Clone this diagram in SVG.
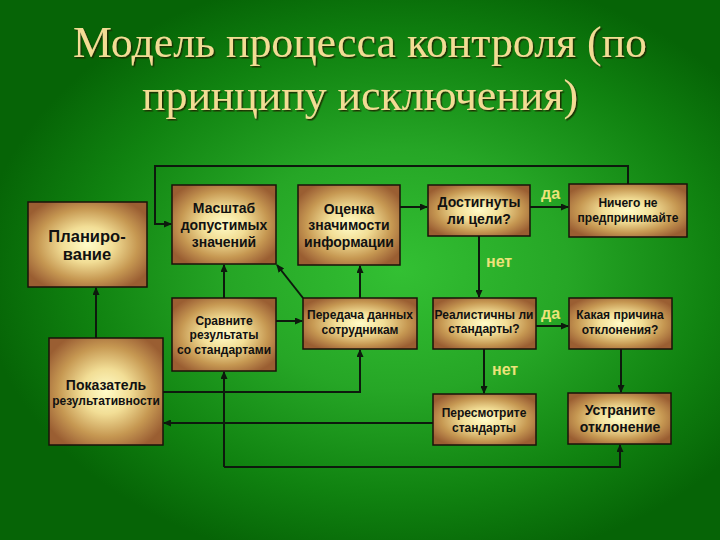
<svg xmlns="http://www.w3.org/2000/svg" width="720" height="540" viewBox="0 0 720 540">
<defs>
<radialGradient id="bg" cx="400" cy="270" r="420" gradientUnits="userSpaceOnUse" gradientTransform="translate(400 270) scale(1 0.72) translate(-400 -270)">
<stop offset="0" stop-color="#33c033"/>
<stop offset="0.4" stop-color="#26a626"/>
<stop offset="0.75" stop-color="#108210"/>
<stop offset="1" stop-color="#066406"/>
</radialGradient>
<radialGradient id="box" cx="0.5" cy="0.5" r="0.6">
<stop offset="0" stop-color="#fffcc8"/>
<stop offset="0.35" stop-color="#f2de96"/>
<stop offset="0.7" stop-color="#c69852"/>
<stop offset="0.9" stop-color="#a9713e"/>
<stop offset="1" stop-color="#9a5e32"/>
</radialGradient>
<marker id="ah" markerWidth="8" markerHeight="7" refX="7" refY="3.5" orient="auto" markerUnits="userSpaceOnUse">
<path d="M0,0 L8,3.5 L0,7 Z" fill="#0d1a0d"/>
</marker>
<filter id="sh" x="-5%" y="-5%" width="110%" height="120%">
<feDropShadow dx="1.5" dy="1.5" stdDeviation="0.6" flood-color="#1a2a00" flood-opacity="0.9"/>
</filter>
</defs>
<style>
.b{fill:url(#box);stroke:#1a120a;stroke-width:1.5}
.t{font-family:"Liberation Sans",Arial,sans-serif;font-weight:bold;fill:#111;text-anchor:middle}
.s16{font-size:16.5px}.s13{font-size:14px}.s11{font-size:12px}
.ca{fill:none;stroke:#0d1a0d;stroke-width:2;marker-end:url(#ah)}
.lab{font-family:"Liberation Sans",Arial,sans-serif;font-weight:bold;font-size:16px;fill:#ece37a}
.title{font-family:"Liberation Serif","Times New Roman",serif;font-size:44px;fill:#f2dc94;text-anchor:middle}
</style>
<rect x="0" y="0" width="720" height="540" fill="url(#bg)"/>
<g id="title" filter="url(#sh)">
<text class="title" x="360" y="57" textLength="574" lengthAdjust="spacingAndGlyphs">Модель процесса контроля (по</text>
<text class="title" x="360" y="110" textLength="436" lengthAdjust="spacingAndGlyphs">принципу исключения)</text>
</g>
<g id="connectors">
<path class="ca" d="M628,184 V166 H155 V224 H171"/>
<path class="ca" d="M303,298 L277,265"/>
<path class="ca" d="M224,298 V265"/>
<path class="ca" d="M276,321 H302"/>
<path class="ca" d="M360,298 V266"/>
<path class="ca" d="M400,207 H427"/>
<path class="ca" d="M479,236 V297"/>
<path class="ca" d="M530,207 H568"/>
<path class="ca" d="M536,326 H568"/>
<path class="ca" d="M484,349 V393"/>
<path class="ca" d="M621,349 V392"/>
<path class="ca" d="M224,467 V372"/>
<path class="ca" d="M224,467 H620 V445"/>
<path class="ca" d="M163,392 H360 V350"/>
<path class="ca" d="M433,423 H164"/>
<path class="ca" d="M96,338 V288"/>
</g>
<g id="labels">
<text class="lab" x="541" y="199">да</text>
<text class="lab" x="486" y="267">нет</text>
<text class="lab" x="541" y="319">да</text>
<text class="lab" x="492" y="375">нет</text>
</g>
<g id="planning"><rect class="b" x="28" y="202" width="119" height="85"/>
<text class="t s16" x="87" y="242">Планиро-</text><text class="t s16" x="87" y="260">вание</text></g>
<g id="scale"><rect class="b" x="172" y="185" width="104" height="79"/>
<text class="t s13" x="224" y="213">Масштаб</text><text class="t s13" x="224" y="230">допустимых</text><text class="t s13" x="224" y="247">значений</text></g>
<g id="assess"><rect class="b" x="298" y="185" width="102" height="80"/>
<text class="t s13" x="349" y="214">Оценка</text><text class="t s13" x="349" y="230">значимости</text><text class="t s13" x="349" y="247">информации</text></g>
<g id="goals"><rect class="b" x="428" y="185" width="102" height="51"/>
<text class="t s13" x="479" y="207">Достигнуты</text><text class="t s13" x="479" y="224">ли цели?</text></g>
<g id="nothing"><rect class="b" x="569" y="184" width="118" height="53"/>
<text class="t s11" x="628" y="207">Ничего не</text><text class="t s11" x="628" y="222">предпринимайте</text></g>
<g id="compare"><rect class="b" x="172" y="298" width="104" height="73"/>
<text class="t s11" x="224" y="325">Сравните</text><text class="t s11" x="224" y="339">результаты</text><text class="t s11" x="224" y="354">со стандартами</text></g>
<g id="indicator"><rect class="b" x="49" y="338" width="114" height="107"/>
<text class="t s13" x="106" y="390">Показатель</text><text class="t s11" x="106" y="405">результативности</text></g>
<g id="transfer"><rect class="b" x="303" y="298" width="114" height="51"/>
<text class="t s11" x="360" y="319">Передача данных</text><text class="t s11" x="360" y="334">сотрудникам</text></g>
<g id="realistic"><rect class="b" x="433" y="298" width="103" height="51"/>
<text class="t s11" x="484" y="319">Реалистичны ли</text><text class="t s11" x="484" y="333">стандарты?</text></g>
<g id="revise"><rect class="b" x="433" y="394" width="103" height="51"/>
<text class="t s11" x="484" y="417">Пересмотрите</text><text class="t s11" x="484" y="432">стандарты</text></g>
<g id="cause"><rect class="b" x="569" y="298" width="103" height="51"/>
<text class="t s11" x="620" y="319">Какая причина</text><text class="t s11" x="620" y="334">отклонения?</text></g>
<g id="fix"><rect class="b" x="568" y="393" width="103" height="51"/>
<text class="t s13" x="620" y="415">Устраните</text><text class="t s13" x="620" y="432">отклонение</text></g>
</svg>
